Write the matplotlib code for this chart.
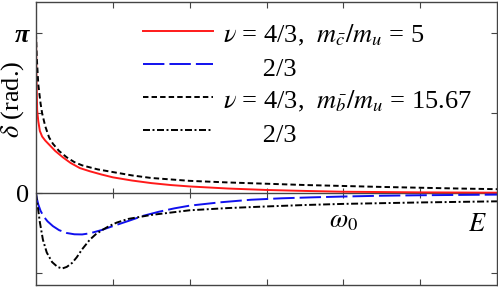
import numpy as np
import matplotlib
matplotlib.use("Agg")
import matplotlib.pyplot as plt

plt.rcParams['font.family'] = ['Liberation Serif', 'DejaVu Serif']
plt.rcParams['mathtext.fontset'] = 'stix'

# ---- data (x in units of the tick spacing, delta in units of pi) ----
x_red = [0, 0.005, 0.015, 0.03, 0.05, 0.08, 0.12, 0.18, 0.25, 0.35, 0.45, 0.57, 0.7,
         0.85, 1.0, 1.25, 1.5, 1.75, 2.0, 2.5, 3.0, 3.5, 4.0, 4.5, 5.0, 5.5, 6.0]
y_red = [1.0, 0.75, 0.52, 0.45, 0.39, 0.355, 0.33, 0.30, 0.265, 0.225, 0.19, 0.158, 0.138,
         0.118, 0.10, 0.08, 0.064, 0.052, 0.043, 0.03, 0.021, 0.015, 0.010, 0.008, 0.006, 0.005, 0.004]

x_blue = [0, 0.01, 0.03, 0.06, 0.1, 0.15, 0.22, 0.3, 0.4, 0.5, 0.6, 0.7, 0.85, 1.0, 1.2,
          1.4, 1.6, 1.8, 2.0, 2.4, 2.8, 3.2, 3.6, 4.0, 4.5, 5.0, 5.5, 6.0]
y_blue = [0, -0.03, -0.07, -0.11, -0.145, -0.175, -0.205, -0.23, -0.248, -0.256, -0.257, -0.25,
          -0.23, -0.205, -0.173, -0.14, -0.115, -0.094, -0.077, -0.056, -0.04, -0.031, -0.025,
          -0.02, -0.015, -0.012, -0.01, -0.008]

x_dash = [0, 0.01, 0.03, 0.06, 0.08, 0.12, 0.17, 0.22, 0.3, 0.4, 0.5, 0.6, 0.8, 1.0, 1.25,
          1.5, 2.0, 2.5, 3.0, 3.5, 4.0, 4.5, 5.0, 5.5, 6.0]
y_dash = [1.0, 0.85, 0.68, 0.56, 0.5, 0.42, 0.35, 0.31, 0.265, 0.225, 0.195, 0.175, 0.15,
          0.133, 0.112, 0.096, 0.078, 0.068, 0.060, 0.052, 0.046, 0.040, 0.035, 0.030, 0.026]

x_dd = [0, 0.01, 0.025, 0.05, 0.09, 0.14, 0.21, 0.28, 0.34, 0.4, 0.47, 0.53, 0.6, 0.7, 0.78,
        0.86, 0.95, 1.05, 1.2, 1.5, 2.0, 2.5, 3.0, 3.5, 4.0, 5.0, 6.0]
y_dd = [0, -0.04, -0.09, -0.18, -0.29, -0.37, -0.43, -0.46, -0.47, -0.46, -0.435, -0.40,
        -0.35, -0.29, -0.255, -0.23, -0.205, -0.183, -0.16, -0.135, -0.106, -0.092, -0.082,
        -0.073, -0.066, -0.057, -0.05]

nu_prefix = r'$\nu$ = '
labels_main = [nu_prefix + r'4/3,  $m_{\bar{c}}/m_u$ = 5',
               '2/3',
               nu_prefix + r'4/3,  $m_{\bar{b}}/m_u$ = 15.67',
               '2/3']

xticks = [1, 2, 3, 4, 5]
yticks = [-0.5, 0, 0.5, 1]
yticklabels = ['', '0', '', 'π']
xlim = (0, 6)
ylim = (-0.573, 1.196)

LEG_FS = 19
fig = plt.figure(figsize=(4.98, 2.88), dpi=100)
ax = fig.add_axes([36/498, 3/288, 461/498, 283/288])
ax.set_xlim(*xlim)
ax.set_ylim(*ylim)

# measure prefix width to align the "2/3" entries under "4/3"
r = fig.canvas.get_renderer()
tp = fig.text(0, 0, nu_prefix + '4', fontsize=LEG_FS)
t4 = fig.text(0, 0, '4', fontsize=LEG_FS)
ts = fig.text(0, 0, 'x' + ' ' * 10 + 'x', fontsize=LEG_FS)
tx = fig.text(0, 0, 'xx', fontsize=LEG_FS)
w_pref = tp.get_window_extent(r).width - t4.get_window_extent(r).width
w_sp = (ts.get_window_extent(r).width - tx.get_window_extent(r).width) / 10
for t in (tp, t4, ts, tx):
    t.remove()
nsp = int(round(w_pref / w_sp))
labels = [lab if lab != '2/3' else ' ' * nsp + lab for lab in labels_main]

lw = 1.4
l1, = ax.plot(x_red, y_red, color='#ff1a1a', lw=lw)
l2, = ax.plot(x_blue, y_blue, color='#1010ee', lw=lw, dashes=(11, 2.6))
l3, = ax.plot(x_dash, y_dash, color='black', lw=lw, dashes=(2.8, 1.6))
l4, = ax.plot(x_dd, y_dd, color='black', lw=lw, dashes=(3.6, 1.3, 1.0, 1.3))

spc = '#444444'
for s in ax.spines.values():
    s.set_color(spc)
    s.set_linewidth(1.0)

ax.set_xticks(xticks)
ax.set_xticklabels([])
ax.set_yticks(yticks)
ax.set_yticklabels(yticklabels, fontsize=19)
ax.tick_params(axis='both', which='both', direction='in', length=4.5, width=0.8,
               color=spc, top=True, right=True, bottom=True, left=True, pad=5)
for t in ax.get_yticklabels():
    if t.get_text() == 'π':
        t.set_fontweight('bold')
        t.set_fontstyle('italic')

# zero line with crossing ticks
zfrac = (0 - ylim[0]) / (ylim[1] - ylim[0])
sec = ax.secondary_xaxis(zfrac)
sec.set_xticks(xticks)
sec.set_xticklabels([])
sec.tick_params(direction='inout', length=7, width=0.8, color=spc)
sec.spines['bottom'].set_color(spc)
sec.spines['bottom'].set_linewidth(1.0)
for k in ['top', 'left', 'right']:
    if k in sec.spines:
        sec.spines[k].set_visible(False)

ax.set_ylabel(r'$\delta$ (rad.)', fontsize=19)
ax.yaxis.set_label_coords(-0.05, 0.655)
ax.yaxis.label.set_va('center')

ax.text(4, -0.18, r'$\omega_0$', fontsize=19, ha='center', va='center')
ax.text(5.74, -0.2, r'$E$', fontsize=19, ha='center', va='center')

leg = ax.legend([l1, l2, l3, l4], labels, loc='upper left', bbox_to_anchor=(0.232, 0.938),
                frameon=False, borderpad=0, borderaxespad=0, handlelength=2.65,
                handleheight=1.3, handletextpad=0.38, labelspacing=0.16, fontsize=LEG_FS)

fig.savefig('out.png', dpi=100)
